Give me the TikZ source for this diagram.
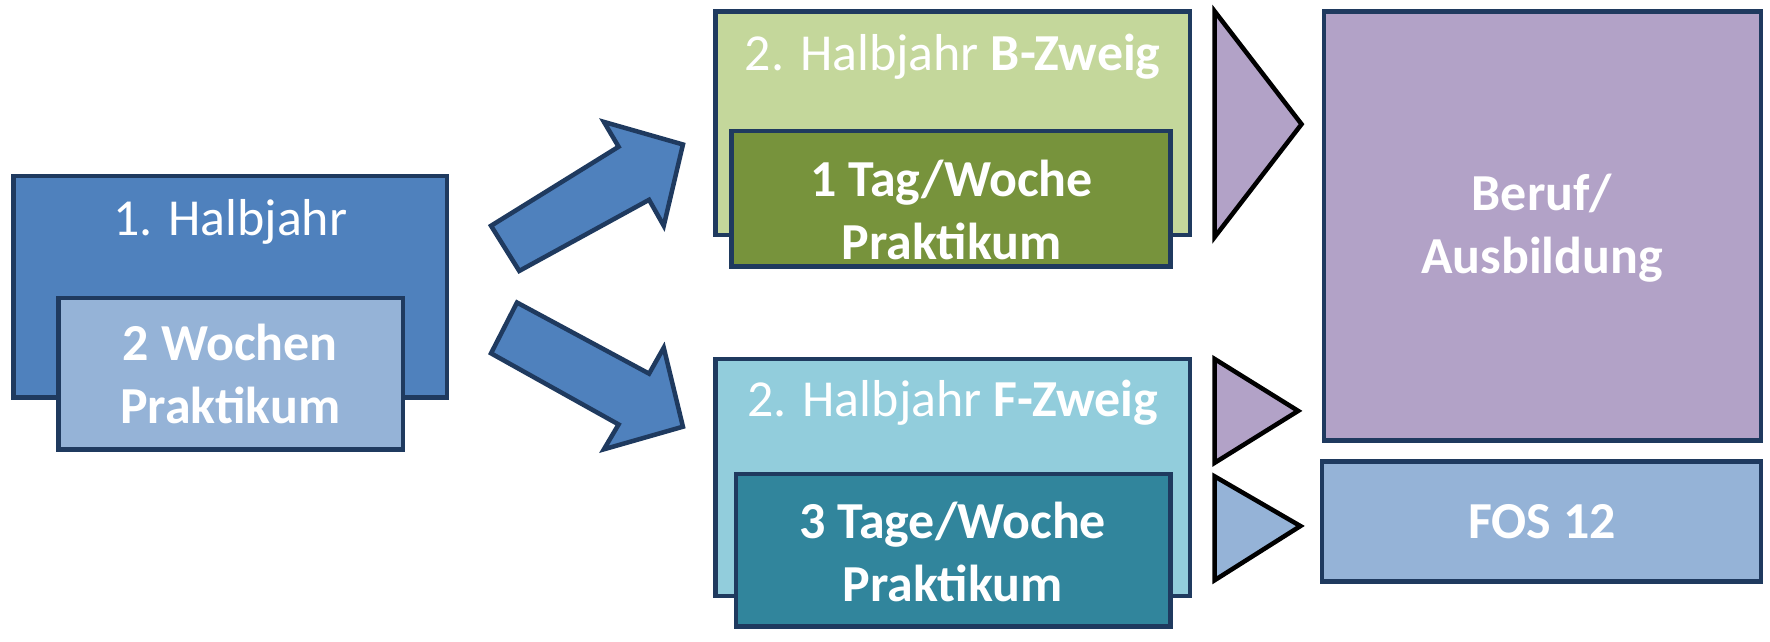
\documentclass[tikz,border=0pt]{standalone}
\usepackage{fontspec}
\setmainfont{Carlito}
\definecolor{bd}{HTML}{1F3A5F}
\definecolor{c1}{HTML}{4F81BD}
\definecolor{c2}{HTML}{95B3D7}
\definecolor{c3}{HTML}{C4D79B}
\definecolor{c4}{HTML}{77933C}
\definecolor{c5}{HTML}{92CDDC}
\definecolor{c6}{HTML}{31859C}
\definecolor{c7}{HTML}{B2A2C7}
\begin{document}
\begin{tikzpicture}[x=1pt,y=-1pt,
  box/.style={draw=bd,line width=4pt},
  tri/.style={draw=black,line width=4pt,line join=miter},
  txt/.style={text=white,font=\fontsize{46}{56}\selectfont,align=center}]
\useasboundingbox (0,0) rectangle (1568,568);
\draw[box,fill=c1] (12,156) rectangle (396,352);
\node[txt] (h1) at (204,197) {1. Halbjahr};
\draw[box,fill=c2] (52,264) rectangle (357,398);
\node[txt,font=\fontsize{46}{56}\selectfont\bfseries] (w2) at (204,331) {2 Wochen\\Praktikum};
\draw[box,fill=c1,line join=miter] (435,200) -- (548,130) -- (535,108) -- (605,128) -- (588,200) -- (575,177) -- (460,240) -- cycle;
\draw[box,fill=c1,line join=miter] (458,268) -- (575,331) -- (588,308) -- (605,378) -- (535,398) -- (548,376) -- (435,313) -- cycle;
\draw[box,fill=c3] (634,10) rectangle (1054,208);
\node[txt] (b) at (844,50) {2. Halbjahr \textbf{B-Zweig}};
\draw[box,fill=c4] (648,116) rectangle (1037,236);
\node[txt,font=\fontsize{46}{56}\selectfont\bfseries] (b2) at (843,186) {1 Tag/Woche\\Praktikum};
\draw[box,fill=c5] (634,318) rectangle (1054,528);
\node[txt] (f) at (844,357) {2. Halbjahr \textbf{F-Zweig}};
\draw[box,fill=c6] (652,420) rectangle (1037,555);
\node[txt,font=\fontsize{46}{56}\selectfont\bfseries] (f2) at (844,489) {3 Tage/Woche\\Praktikum};
\draw[tri,fill=c7] (1076,10) -- (1153,110) -- (1076,210) -- cycle;
\draw[tri,fill=c7] (1076,318) -- (1150,364) -- (1076,410) -- cycle;
\draw[tri,fill=c2] (1076,422) -- (1152,466) -- (1076,514) -- cycle;
\draw[box,fill=c7] (1173,10) rectangle (1560,390);
\node[txt,font=\fontsize{46}{56}\selectfont\bfseries] (be) at (1366,202) {Beruf/\\Ausbildung};
\draw[box,fill=c2] (1171,409) rectangle (1560,515);
\node[txt,font=\fontsize{46}{56}\selectfont\bfseries] (fos) at (1366,462) {FOS 12};
\end{tikzpicture}
\end{document}
